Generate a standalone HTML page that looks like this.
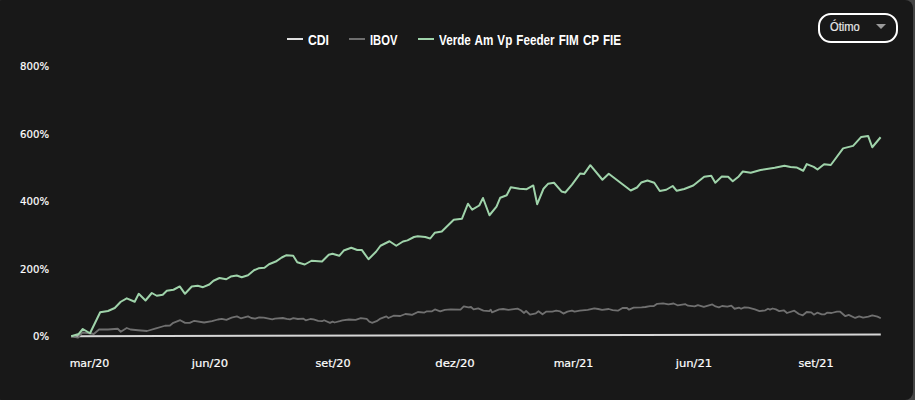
<!DOCTYPE html>
<html lang="pt-BR">
<head>
<meta charset="utf-8">
<title>Rentabilidade</title>
<style>
html,body{margin:0;padding:0;}
body{width:915px;height:400px;overflow:hidden;background:#454545;position:relative;font-family:"DejaVu Sans","Liberation Sans",sans-serif;}
.card{position:absolute;left:-6px;top:0;width:919.4px;height:400px;background:#181818;border-radius:8px;}
svg.chart{position:absolute;left:0;top:0;width:915px;height:400px;overflow:visible;}
.yl{position:absolute;left:0;width:49px;text-align:right;color:#fff;font-size:11px;line-height:14px;height:14px;white-space:nowrap;transform:scaleX(0.92);transform-origin:100% 50%;-webkit-text-stroke:0.2px #fff;}
.xl{position:absolute;width:80px;margin-left:-40px;text-align:center;color:#fff;font-size:11px;line-height:14px;height:14px;white-space:nowrap;top:357px;-webkit-text-stroke:0.2px #fff;}
.legend{position:absolute;top:32px;height:16px;line-height:16px;color:#fff;font-weight:bold;font-size:14px;white-space:nowrap;font-family:"Liberation Sans","DejaVu Sans",sans-serif;}
.legend i{position:absolute;top:6px;height:2px;width:16px;display:block;}
.legend span{position:absolute;left:21px;top:0;display:block;transform-origin:0 50%;}
.select{position:absolute;left:818px;top:13px;width:76px;height:26px;border:2px solid #fff;border-radius:13px;box-sizing:content-box;}
.select span{position:absolute;left:10px;top:4px;-webkit-text-stroke:0.2px #e8e8e8;font-size:12px;line-height:16px;color:#e8e8e8;font-family:"Liberation Sans","DejaVu Sans",sans-serif;transform:scaleX(0.93);transform-origin:0 50%;white-space:nowrap;}
.select b{position:absolute;left:56px;top:9px;width:0;height:0;border-left:5px solid transparent;border-right:5px solid transparent;border-top:5px solid #9a9a9a;}
</style>
</head>
<body>
<div class="card"></div>
<svg class="chart" viewBox="0 0 915 400">
<polyline fill="none" stroke="#d6d6d6" stroke-width="2" stroke-linejoin="round" stroke-linecap="butt" points="71.25,336.30 880.80,334.40"/>
<polyline fill="none" stroke="#707070" stroke-width="1.8" stroke-linejoin="round" stroke-linecap="butt" points="71.25,336.25 78.00,337.70 82.50,332.50 90.00,333.25 93.75,334.00 99.00,329.50 108.00,329.50 117.75,328.75 120.75,331.75 126.75,328.00 130.50,329.50 138.00,330.25 147.00,331.00 156.00,328.30 165.00,325.75 170.00,325.50 173.30,322.80 180.20,320.20 185.10,322.90 189.70,322.90 194.30,320.80 204.10,322.50 212.00,321.20 217.90,319.50 221.80,318.90 226.40,319.90 231.60,317.60 236.90,316.40 240.80,318.30 248.00,316.40 251.30,318.00 255.20,318.60 259.20,317.30 263.80,317.60 272.30,319.30 274.90,318.60 282.80,318.00 286.70,318.90 290.00,319.30 293.30,318.20 297.90,319.00 303.10,318.60 305.70,320.30 310.30,319.00 313.60,319.30 318.20,320.80 322.10,321.20 324.10,320.30 330.00,322.90 332.60,321.60 334.60,322.50 339.80,321.20 342.50,320.30 349.00,319.50 355.60,319.90 360.80,318.20 366.70,318.90 369.30,321.60 372.00,322.80 376.60,321.20 379.80,318.90 386.40,316.40 388.40,318.00 393.60,315.70 400.20,316.00 405.40,314.00 410.00,314.50 412.00,314.90 417.90,312.00 424.40,312.60 426.40,311.40 431.60,311.40 434.90,309.40 440.20,311.40 444.80,309.90 450.70,309.40 460.50,309.70 463.80,306.40 468.40,307.40 471.00,307.00 473.60,309.30 478.20,308.40 483.40,310.60 489.30,311.20 490.70,309.70 492.00,312.30 499.20,309.40 503.10,309.00 508.40,309.90 517.50,308.60 520.80,310.30 524.10,312.95 526.10,311.00 530.00,314.60 535.90,313.30 538.50,311.20 542.50,314.30 546.40,311.60 552.30,311.60 556.20,310.70 560.20,311.40 563.40,313.60 567.40,311.60 572.00,310.60 574.60,311.60 579.80,310.60 587.70,309.90 594.30,308.40 598.20,309.00 602.10,309.90 608.70,309.00 612.60,310.10 617.90,310.70 622.50,308.00 627.00,308.00 629.00,309.70 633.60,307.70 641.50,307.30 645.40,307.00 650.00,306.20 653.90,306.10 657.20,303.80 663.10,303.40 668.40,304.40 673.60,303.50 677.50,305.30 685.40,304.20 688.00,305.70 694.60,306.40 697.90,305.10 703.80,306.80 712.30,304.40 715.60,306.40 718.90,307.30 722.10,306.00 727.40,306.70 731.30,305.70 734.60,308.75 739.20,307.70 741.10,308.75 744.40,307.40 748.40,307.70 754.90,309.40 759.50,311.20 765.40,310.30 768.00,308.75 770.00,309.60 772.60,308.50 775.90,309.40 779.20,311.10 783.80,310.30 787.00,313.00 794.30,310.70 798.90,314.00 802.80,315.30 806.70,312.00 811.30,312.30 813.90,314.70 817.20,312.70 821.80,314.40 824.40,314.40 827.00,312.70 831.60,313.00 836.90,311.70 840.20,311.70 845.40,316.20 848.70,314.90 855.20,317.95 859.20,316.40 863.10,317.60 868.40,316.60 872.30,315.30 877.50,316.60 880.80,318.20"/>
<polyline fill="none" stroke="#9fd3aa" stroke-width="2" stroke-linejoin="round" stroke-linecap="butt" points="71.25,336.25 78.75,334.00 82.80,329.00 90.00,333.25 100.20,312.25 108.00,311.00 114.75,308.00 120.75,301.75 126.75,298.30 134.70,301.75 138.75,293.80 145.50,300.50 151.80,293.00 156.75,295.75 162.75,294.70 166.80,290.80 173.50,289.75 179.75,286.45 185.00,293.80 191.75,286.45 197.75,285.70 203.00,287.20 209.30,284.50 213.50,280.75 219.50,278.00 226.25,279.25 230.75,276.55 236.75,275.50 241.70,277.30 248.00,275.20 254.00,270.25 258.50,268.30 264.50,267.70 269.00,264.25 275.75,261.55 281.75,257.50 286.50,255.15 293.20,255.80 297.25,262.25 304.75,264.50 311.50,260.75 322.00,261.50 328.75,254.75 332.50,253.70 339.25,255.80 343.75,250.55 351.25,247.70 357.25,249.95 361.75,249.95 368.50,259.25 376.00,251.75 380.50,245.75 389.50,241.25 396.25,245.75 403.00,241.50 407.50,240.40 414.00,237.00 417.75,236.25 425.25,237.00 430.20,238.50 434.70,232.80 441.75,231.45 453.75,219.75 462.00,218.70 468.00,203.70 472.20,209.70 479.25,205.50 483.00,198.00 489.45,215.25 496.50,206.70 500.25,197.70 506.70,195.25 510.80,187.25 519.50,188.75 526.70,189.20 533.30,185.45 537.20,204.20 543.50,188.75 548.00,183.80 554.00,182.75 561.50,191.45 565.25,192.50 572.00,184.70 580.25,173.45 584.00,174.05 590.30,165.20 602.45,179.75 608.75,173.75 630.70,190.50 637.00,187.50 641.20,182.55 647.50,180.45 654.25,182.70 659.80,190.95 666.25,189.75 672.70,186.00 676.75,190.80 684.25,189.00 693.25,185.55 704.20,176.70 711.25,175.80 715.30,182.70 721.80,176.50 728.10,176.85 732.75,181.25 738.75,176.45 742.80,171.50 750.75,172.70 760.50,170.00 774.75,167.75 784.50,165.80 790.50,167.00 796.50,167.45 803.25,170.75 806.80,164.05 813.75,166.95 817.50,169.50 824.10,164.20 830.80,165.00 843.10,148.40 853.10,145.90 861.25,136.90 868.10,135.90 872.25,147.25 880.60,137.25"/>
</svg>
<div class="yl" style="top:60px">800%</div>
<div class="yl" style="top:128px">600%</div>
<div class="yl" style="top:195px">400%</div>
<div class="yl" style="top:263px">200%</div>
<div class="yl" style="top:330px">0%</div>
<div class="xl" style="left:89.5px;transform:scaleX(1.0)">mar/20</div>
<div class="xl" style="left:210px;transform:scaleX(1.05)">jun/20</div>
<div class="xl" style="left:332.5px;transform:scaleX(1.02)">set/20</div>
<div class="xl" style="left:455px;transform:scaleX(1.06)">dez/20</div>
<div class="xl" style="left:573.5px;transform:scaleX(1.0)">mar/21</div>
<div class="xl" style="left:694px;transform:scaleX(1.05)">jun/21</div>
<div class="xl" style="left:816px;transform:scaleX(1.02)">set/21</div>
<div class="legend" style="left:287px"><i style="left:0;background:#e0e0e0"></i><span style="transform:scaleX(0.87)">CDI</span></div>
<div class="legend" style="left:349px"><i style="left:0;background:#6e6e6e"></i><span style="transform:scaleX(0.80)">IBOV</span></div>
<div class="legend" style="left:418px"><i style="left:0;background:#9fd3aa"></i><span style="transform:scaleX(0.834);word-spacing:1px">Verde Am Vp Feeder FIM CP FIE</span></div>
<div class="select"><span>Ótimo</span><b></b></div>
</body>
</html>
